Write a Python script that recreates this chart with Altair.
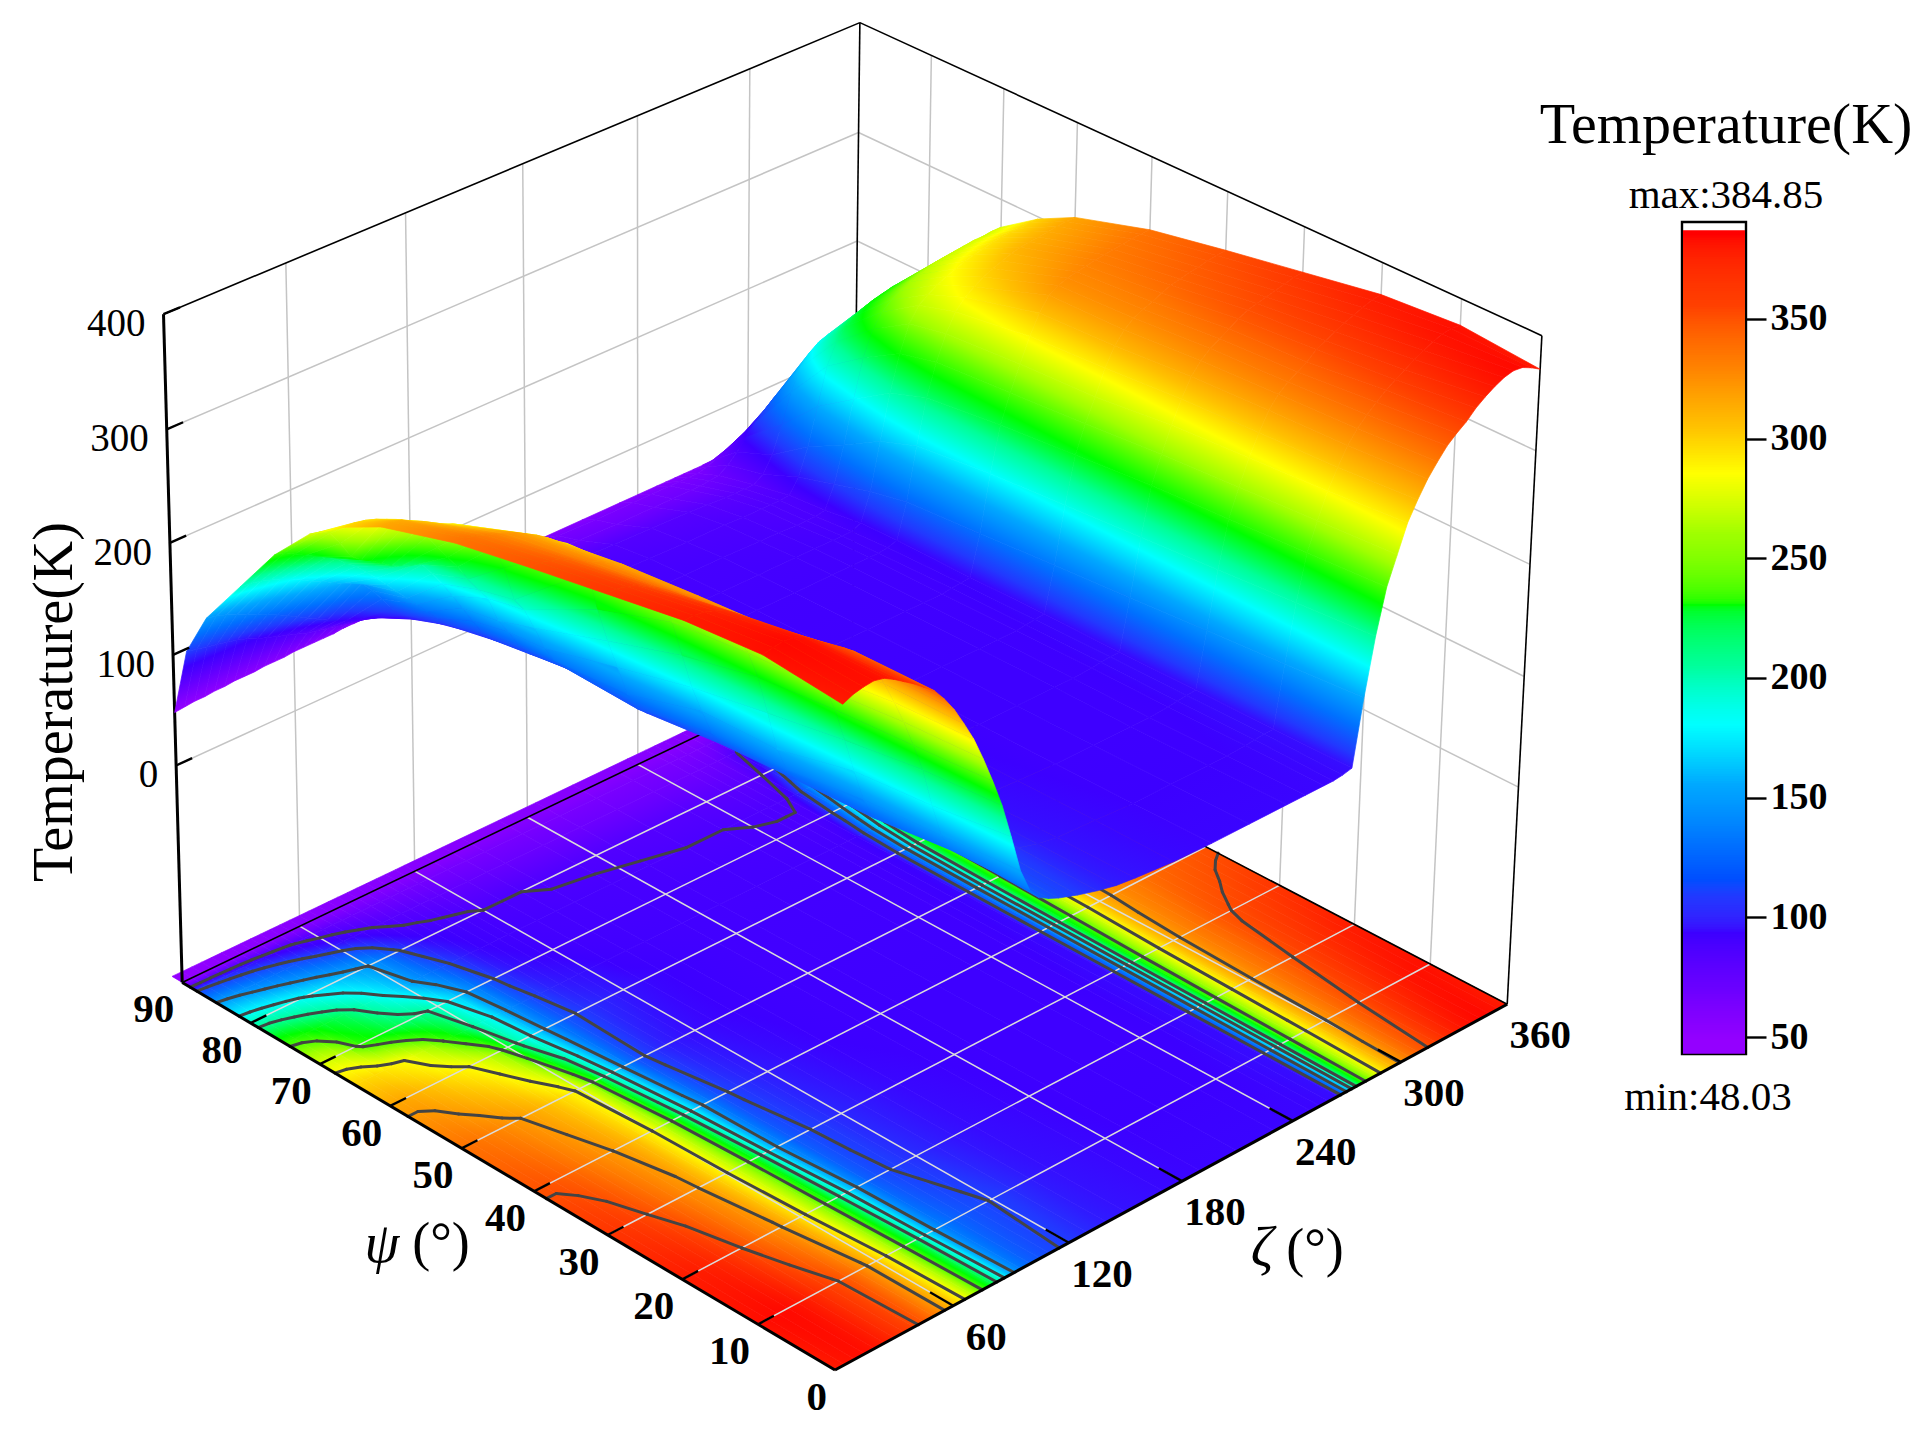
import numpy as np
import pandas as pd
import altair as alt

# ---------- values ----------
ZETA = [0,5,10,15,20,25,30,35,40,45,50,55,60,65,70,75,80,85,90,95,100,105,110,115,120,
        130,140,150,170,190,210,230,240,250,255,260,
        265,270,275,280,285,290,295,300,305,310,315,320,325,330,335,340,345,350,355,360]
PSI = [0,10,20,30,40,50,60,65,70,75,80,85,88,90]

T_00 = [372,376,378,379,377,372,366,360,353,346,335,322,306,289,268,245,220,189,156,135,124,119,115,112,109,
        104,100,98,95,94,94,94,94,94,94,95,
        97,155,205,244,268,292,308,322,333,343,350,356,364,370,375,379,381,380,376,371]
T_10 = [378,380,381,380,376,370,363,357,351,344,333,321,305,285,264,240,215,180,150,133,126,121,117,114,111,
        105,100,97,95,93,93,93,93,94,95,96,
        96,150,200,240,264,286,303,318,329,337,344,351,356,361,366,370,374,377,378,377]
T_20 = [372,372,371,368,364,358,350,343,335,328,321,309,294,276,257,235,205,174,145,125,118,113,110,107,105,
        101,98,96,94,92,92,92,92,93,94,95,
        96,145,195,236,260,282,300,316,326,333,338,343,350,354,358,362,365,368,371,372]
T_30 = [360,360,358,355,350,345,339,333,327,322,312,300,288,270,253,228,193,157,135,122,116,111,108,105,103,
        100,97,95,93,92,92,92,92,93,94,95,
        95,140,190,232,256,278,297,313,323,330,335,340,345,349,351,353,355,357,359,360]
T_40 = [348,348,346,343,339,334,329,325,320,315,307,297,285,268,245,212,180,155,132,118,111,107,104,102,100,
        97,95,93,92,92,92,92,92,92,93,94,
        95,135,185,226,250,270,292,308,318,325,329,332,336,339,341,343,344,346,347,348]
T_50 = [335,335,333,330,327,323,320,315,310,304,297,291,280,258,222,190,163,135,118,110,105,101,99,97,96,
        94,93,92,91,91,91,91,91,91,92,93,
        94,130,180,220,245,267,288,305,317,322,325,327,328,330,331,332,333,334,335,335]
T_60 = [315,315,313,308,304,299,294,290,285,277,268,254,232,200,187,167,145,130,120,112,107,104,102,100,98,
        95,93,92,90,90,90,90,90,90,90,91,
        94,125,172,212,240,262,278,287,293,298,302,305,308,310,311,312,313,314,315,315]
T_65 = [298,298,296,293,289,285,277,268,258,245,232,220,205,192,180,156,142,127,115,108,103,100,98,97,96,
        92,91,90,90,89,89,89,89,89,89,89,
        93,118,160,200,232,255,268,274,279,283,286,289,291,293,295,296,297,297,298,298]
T_70 = [275,273,268,255,240,233,228,222,216,212,208,205,193,180,165,150,135,120,110,103,98,96,94,93,91,
        90,89,89,88,88,88,87,87,86,86,86,
        88,108,140,178,212,234,246,253,258,262,265,268,270,271,272,273,274,274,275,275]
T_75 = [240,238,233,228,223,218,213,205,198,189,180,170,160,150,140,130,120,110,103,97,94,92,91,90,89,
        88,88,87,87,86,85,85,84,84,84,84,
        85,98,122,155,188,207,217,223,227,230,232,234,235,236,237,238,238,239,240,240]
T_80 = [195,194,192,189,186,182,177,172,168,163,158,154,150,140,128,115,105,98,94,92,90,89,88,87,85,
        85,85,84,83,82,81,80,79,78,78,78,
        78,84,98,122,148,167,177,183,186,188,190,191,192,193,193,194,194,195,195,195]
T_85 = [150,148,145,141,137,133,129,125,120,115,110,105,100,96,92,88,85,82,80,79,78,77,76,75,74,
        73,72,71,70,69,68,68,68,68,68,69,
        70,76,84,94,104,112,119,124,129,132,135,138,140,143,145,147,148,149,150,150]
T_88 = [110,108,106,104,102,100,97,93,90,87,84,81,78,76,74,72,70,69,68,68,67,67,66,66,65,
        65,64,64,63,63,62,62,62,62,62,62,
        62,64,68,72,76,80,83,86,88,90,92,94,96,98,100,102,104,106,108,110]
T_90 = [48,49,50,50,51,51,52,52,52,53,53,53,54,54,54,54,54,55,55,55,55,55,55,55,55,
        55,55,55,55,55,55,55,55,55,55,55,
        55,55,55,55,55,55,55,55,54,54,54,53,53,52,52,51,50,50,49,48]

CONTOUR_LEVELS = [85, 112, 150, 180, 205, 245, 285, 320, 350]
Z_TICKS = [0, 100, 200, 300, 400]
PSI_TICKS = [0, 10, 20, 30, 40, 50, 60, 70, 80, 90]
ZETA_TICKS = [60, 120, 180, 240, 300, 360]
BAR_TICKS = [50, 100, 150, 200, 250, 300, 350]

CMAP_T = [48, 70, 93, 108, 130, 155, 180, 205, 230, 260, 285, 305, 330, 355, 385]
CMAP_C = ['#9400ff', '#6a00ff', '#3c00ff', '#2238ff', '#0070ff', '#00a8ff', '#00ffff', '#00ff99',
          '#00ff00', '#a0ff00', '#ffff00', '#ffc000', '#ff8000', '#ff4000', '#ff0000']

FONT = 'Liberation Serif'
W, H = 1914, 1432
TMAT = np.array([T_00, T_10, T_20, T_30, T_40, T_50, T_60, T_65, T_70, T_75, T_80, T_85, T_88, T_90], dtype=float)

# ---------- view: camera fitted to the box edges of the picture ----------
Z_MIN, Z_MAX = -200.0, 400.0
CAM = [((0, 0, Z_MIN), (837, 1370)), ((0, 90, Z_MIN), (178, 979)), ((360, 0, Z_MIN), (1504, 1005)),
       ((360, 90, Z_MIN), (858, 662)), ((0, 90, 400), (166, 314)), ((360, 90, 400), (860, 22)),
       ((360, 0, 400), (1545, 335)), ((0, 90, 0), (174, 767)), ((360, 90, 200), (857, 243)),
       ((360, 90, 300), (859, 133)), ((0, 90, 200), (172, 545)),
       ((360, 50, 400), (1149, 157)), ((360, 80, 400), (928, 53))]
A = []
for (zt, ps, zz), (px, py) in CAM:
    X = [zt / 360, ps / 90, (zz - Z_MIN) / (Z_MAX - Z_MIN), 1]
    u, v = px / 1000, py / 1000
    A.append(X + [0, 0, 0, 0] + [-u * c for c in X])
    A.append([0, 0, 0, 0] + X + [-v * c for c in X])
P = np.linalg.svd(np.array(A))[2][-1].reshape(3, 4)


def proj(zt, ps, zz):
    X = np.array([zt / 360, ps / 90, (zz - Z_MIN) / (Z_MAX - Z_MIN), 1.0])
    q = P @ X
    return (q[0] / q[2] * 1000 - 8, q[1] / q[2] * 1000 - 8)


def seg(a, b):
    p, q = proj(*a), proj(*b)
    return {'x': p[0], 'y': p[1], 'x2': q[0], 'y2': q[1]}


# ---------- shading of one facet: a linear gradient across it ----------
_rgb = np.array([[int(c[i:i + 2], 16) for i in (1, 3, 5)] for c in CMAP_C], dtype=float)


def col(t):
    return '#%02x%02x%02x' % tuple(int(round(np.interp(t, CMAP_T, _rgb[:, k]))) for k in range(3))


def shade(xy, ts):
    xy, ts = np.array(xy, dtype=float), np.array(ts, dtype=float)
    x0, y0 = xy.min(axis=0)
    w, h = np.maximum(xy.max(axis=0) - xy.min(axis=0), 1e-3)
    sx, sy = (xy[:, 0] - x0) / w, (xy[:, 1] - y0) / h
    a, b, c = np.linalg.lstsq(np.c_[sx, sy, np.ones(4)], ts, rcond=None)[0]
    g2 = a * a + b * b
    tc = a * 0.5 + b * 0.5 + c
    d = max((ts.max() - ts.min()) / 2, 0.5)
    if g2 < 1e-6:
        return col(ts.mean())
    p1 = (0.5 - a / g2 * d, 0.5 - b / g2 * d)
    p2 = (0.5 + a / g2 * d, 0.5 + b / g2 * d)
    lo, hi = tc - d, tc + d
    knots = [lo] + [k for k in CMAP_T if lo < k < hi] + [hi]
    return {'gradient': 'linear', 'x1': p1[0], 'y1': p1[1], 'x2': p2[0], 'y2': p2[1],
            'stops': [{'offset': (k - lo) / (hi - lo), 'color': col(k)} for k in knots]}


# ---------- scales ----------
SX = alt.Scale(domain=[0, W], nice=False, zero=False)
SY = alt.Scale(domain=[H, 0], nice=False, zero=False)
CS = alt.Scale(domain=CMAP_T, range=CMAP_C, clamp=True)


def rules(rows, color, width, cap='butt'):
    return alt.Chart(pd.DataFrame(rows)).mark_rule(color=color, strokeWidth=width, strokeCap=cap).encode(
        x=alt.X('x:Q', scale=SX, axis=None), y=alt.Y('y:Q', scale=SY, axis=None), x2='x2:Q', y2='y2:Q')


def mesh(features):
    return alt.Chart(alt.Data(values=features)).mark_geoshape(strokeWidth=0.7).encode(
        fill=alt.Fill('properties.g:N', scale=None),
        stroke=alt.Stroke('properties.g:N', scale=None),
    ).project(type='identity', scale=1, translate=[0, 0])


def labels(rows, size, weight, align='center'):
    return alt.Chart(pd.DataFrame(rows)).mark_text(font=FONT, fontSize=size, fontWeight=weight, align=align,
                                                   baseline='middle', color='black').encode(
        x=alt.X('x:Q', scale=SX, axis=None), y=alt.Y('y:Q', scale=SY, axis=None), text='t:N')


def note(txt, px, py, size, align='center', angle=0, style='normal', baseline='alphabetic'):
    return alt.Chart(pd.DataFrame({'t': [txt]})).mark_text(
        font=FONT, fontSize=size, align=align, angle=angle, fontStyle=style, baseline=baseline, color='black'
    ).encode(x=alt.value(px - 8), y=alt.value(py - 8), text='t:N')


def facet(j, i, flat):
    idx = [(j, i), (j + 1, i), (j + 1, i + 1), (j, i + 1)]
    pts = [proj(ZETA[b], PSI[a], Z_MIN if flat else float(TMAT[a, b])) for b, a in idx]
    ts = [float(TMAT[a, b]) for b, a in idx]
    ring = [list(p) for p in pts] + [list(pts[0])]
    return {'type': 'Feature', 'properties': {'g': shade(pts, ts)},
            'geometry': {'type': 'Polygon', 'coordinates': [ring]}}


# ---------- floor and surface facets, far corner first ----------
floor_f, surf_f = [], []
for j in range(len(ZETA) - 2, -1, -1):
    for i in range(len(PSI) - 2, -1, -1):
        floor_f.append(facet(j, i, True))
        surf_f.append(facet(j, i, False))
strip = []
for j in range(len(ZETA) - 1):
    pts = [(ZETA[j], 90), (ZETA[j + 1], 90), (ZETA[j + 1], 91.5), (ZETA[j], 91.5), (ZETA[j], 90)]
    strip.append({'type': 'Feature', 'properties': {'g': col(T_90[j])},
                  'geometry': {'type': 'Polygon', 'coordinates': [[list(proj(a, b, Z_MIN)) for a, b in pts]]}})

# ---------- contour segments on the floor (marching squares over the table) ----------
cont = []
for lev0 in CONTOUR_LEVELS:
    lev = lev0 + 0.01
    for i in range(len(PSI) - 1):
        for j in range(len(ZETA) - 1):
            c = [(ZETA[j], PSI[i], TMAT[i, j]), (ZETA[j + 1], PSI[i], TMAT[i, j + 1]),
                 (ZETA[j + 1], PSI[i + 1], TMAT[i + 1, j + 1]), (ZETA[j], PSI[i + 1], TMAT[i + 1, j])]
            hits = []
            for k in range(4):
                a, b = c[k], c[(k + 1) % 4]
                if (a[2] - lev) * (b[2] - lev) < 0:
                    f = (lev - a[2]) / (b[2] - a[2])
                    hits.append((a[0] + f * (b[0] - a[0]), a[1] + f * (b[1] - a[1]), Z_MIN))
            for k in range(0, len(hits) - 1, 2):
                cont.append(seg(hits[k], hits[k + 1]))

# ---------- box, grids, ticks ----------
wall = []
for z in Z_TICKS[:-1]:
    wall.append(seg((0, 90, z), (360, 90, z)))
    wall.append(seg((360, 90, z), (360, 0, z)))
for zt in ZETA_TICKS[:-1]:
    wall.append(seg((zt, 90, Z_MIN), (zt, 90, Z_MAX)))
for ps in PSI_TICKS[1:-1]:
    wall.append(seg((360, ps, Z_MIN), (360, ps, Z_MAX)))
box = [seg((0, 90, Z_MAX), (360, 90, Z_MAX)), seg((360, 90, Z_MAX), (360, 0, Z_MAX)),
       seg((360, 0, Z_MAX), (360, 0, Z_MIN)), seg((360, 90, Z_MAX), (360, 90, Z_MIN)),
       seg((0, 90, Z_MIN), (360, 90, Z_MIN)), seg((360, 90, Z_MIN), (360, 0, Z_MIN))]
fgrid = [seg((0, ps, Z_MIN), (360, ps, Z_MIN)) for ps in PSI_TICKS[1:-1]] + \
        [seg((zt, 0, Z_MIN), (zt, 90, Z_MIN)) for zt in ZETA_TICKS[:-1]]
axes_thick = [seg((0, 0, Z_MIN), (0, 90, Z_MIN)), seg((0, 0, Z_MIN), (360, 0, Z_MIN)),
              seg((0, 90, Z_MIN), (0, 90, Z_MAX))]
tick_seg = [seg((0, 90, z), (8, 90, z)) for z in Z_TICKS] + \
           [seg((0, ps, Z_MIN), (8, ps, Z_MIN)) for ps in PSI_TICKS[1:-1]] + \
           [seg((zt, 0, Z_MIN), (zt, 3, Z_MIN)) for zt in ZETA_TICKS[:-1]]

z_lab = [{'x': proj(0, 90, z)[0] - 18, 'y': proj(0, 90, z)[1] + 10, 't': str(z)} for z in Z_TICKS]
psi_lab = [{'x': proj(0, p, Z_MIN)[0] - 8, 'y': proj(0, p, Z_MIN)[1] + 28, 't': str(p)} for p in PSI_TICKS]
zeta_lab = [{'x': proj(z, 0, Z_MIN)[0] + 33, 'y': proj(z, 0, Z_MIN)[1] + 32, 't': str(z)} for z in ZETA_TICKS]

# ---------- colour bar ----------
ramp_t = np.arange(43, 387, 1.0)
BAR_DOM = [42.9, 390.5]
BAR_RANGE = [1054 - 8, 222 - 8]
YB = alt.Y('v:Q', scale=alt.Scale(domain=BAR_DOM, range=BAR_RANGE, nice=False, zero=False),
           axis=alt.Axis(orient='right', offset=1746 - 8 - W, values=BAR_TICKS, tickSize=20, tickWidth=2.4,
                         tickColor='black', labelFont=FONT, labelFontSize=38, labelFontWeight='bold',
                         labelColor='black', labelPadding=4, domain=False, grid=False, title=None))
YB_noaxis = alt.Y('v:Q', scale=alt.Scale(domain=BAR_DOM, range=BAR_RANGE, nice=False, zero=False), axis=None)
bar_frame = alt.Chart(pd.DataFrame({'v': [BAR_DOM[0]], 'v2': [BAR_DOM[1]]})).mark_rect(
    fill='white', stroke='black', strokeWidth=2.4).encode(
    x=alt.value(1682 - 8), x2=alt.value(1746 - 8), y=YB, y2='v2:Q')
bar_ramp = alt.Chart(pd.DataFrame({'v': ramp_t, 'v2': np.minimum(ramp_t + 2, 387)})).mark_rect().encode(
    x=alt.value(1683 - 8), x2=alt.value(1745 - 8), y=YB_noaxis, y2='v2:Q',
    color=alt.Color('v:Q', scale=CS, legend=None))

chart = alt.layer(
    rules(wall, '#c4c4c4', 1.5),
    mesh(strip),
    mesh(floor_f),
    rules(fgrid, '#dcdcdc', 1.5),
    rules(cont, '#444444', 3, 'round'),
    rules(box, 'black', 1.6),
    rules(axes_thick, 'black', 3),
    mesh(surf_f),
    rules(tick_seg, 'black', 2.4),
    labels(z_lab, 39, 'normal', 'right'),
    labels(psi_lab, 41, 'bold', 'right'),
    labels(zeta_lab, 41, 'bold'),
    note('Temperature(K)', 72, 702, 56, angle=270),
    note('\u03c8', 382, 1262, 56, style='italic'),
    note('(\u00b0)', 441, 1260, 54),
    note('\u03b6', 1262, 1266, 56, style='italic'),
    note('(\u00b0)', 1315, 1266, 54),
    note('Temperature(K)', 1726, 143, 58),
    note('max:384.85', 1726, 208, 41),
    note('min:48.03', 1708, 1110, 41),
    bar_frame,
    bar_ramp,
).resolve_scale(x='independent', y='independent').properties(
    width=W, height=H, padding=0, autosize=alt.AutoSizeParams(type='none'), background='white'
).configure_view(stroke=None)

chart.save('out.html', embed_options={'renderer': 'svg', 'actions': False})
